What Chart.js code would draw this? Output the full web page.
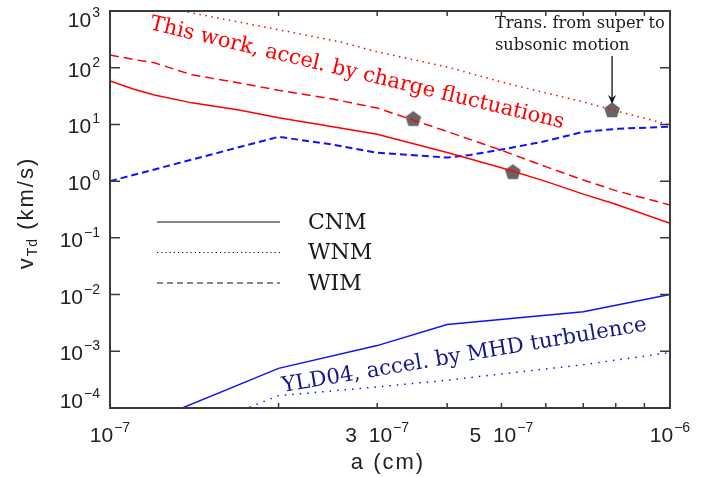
<!DOCTYPE html>
<html>
<head>
<meta charset="utf-8">
<script src="https://cdn.jsdelivr.net/npm/chart.js@4.4.0/dist/chart.umd.min.js"></script>
<style>
  html, body { margin: 0; padding: 0; background: #fff; }
</style>
</head>
<body>
<canvas id="vtd" width="723" height="477"></canvas>
<script>
// grain size a in units of 1e-7 cm, drift velocity v_Td in km/s

// this work, accel. by charge fluctuations (red)
const aRedCnm = [1.0, 1.1, 1.2, 1.4, 1.7, 2.0, 2.5, 3.0, 4.0, 5.0, 6.0, 7.0, 8.0, 10];
const vRedCnm = [58.6, 42, 33, 24, 18, 13.1, 9.1, 6.7, 3.2, 1.72, 0.99, 0.59, 0.39, 0.18];

const aRedWnm = [1.0, 1.345, 2.0, 2.58, 3.0, 4.0, 5.0, 6.0, 7.0, 7.9, 10];
const vRedWnm = [1300, 1000, 467, 285, 190, 103, 56, 36, 25, 18, 9.8];

const aRedWim = [1.0, 1.1, 1.2, 1.4, 1.7, 2.0, 2.5, 3.0, 4.0, 5.0, 6.0, 7.0, 8.0, 10];
const vRedWim = [168, 140, 122, 75, 54, 40, 28, 19.5, 7.5, 3.5, 1.8, 1.05, 0.68, 0.38];

// YLD04, accel. by MHD turbulence (blue)
const aBlueCnm = [1.0, 2.0, 3.0, 4.0, 7.0, 10];
const vBlueCnm = [3.0e-5, 5.0e-4, 1.26e-3, 2.96e-3, 5.0e-3, 1.0e-2];

const aBlueWnm = [1.0, 2.0, 3.0, 4.0, 7.0, 10];
const vBlueWnm = [1.1e-5, 1.65e-4, 2.35e-4, 3.1e-4, 5.8e-4, 9.5e-4];

const aBlueWim = [1.0, 2.0, 2.5, 3.0, 4.0, 4.4, 5.0, 5.9, 7.0, 8.1, 10];
const vBlueWim = [1.0, 6.05, 4.4, 3.16, 2.6, 2.9, 3.6, 4.9, 7.4, 8.4, 9.1];

// transition from super to subsonic motion
const aTrans = [3.48, 5.24, 7.88];
const vTrans = [12.6, 1.46, 18];

// axis ticks
const yTickExp = [3, 2, 1, 0, -1, -2, -3, -4];
const xTickAt = [1, 3, 5, 10];
const xTickPre = ["", "3  ", "5  ", ""];
const xTickExp = ["\u22127", "\u22127", "\u22127", "\u22126"];
const xMinorAt = [2, 3, 4, 5, 6, 7, 8, 9];

const legendNames = ["CNM", "WNM", "WIM"];

const RED = "#ff0000";
const BLUE = "#1010ff";
const AXIS = "#3a3a3a";

function pts(a, v) {
  return a.map((x, i) => ({ x: x * 1e-7, y: v[i] }));
}

function series(label, a, v, color, dash, width) {
  return {
    label: label,
    data: pts(a, v),
    borderColor: color,
    backgroundColor: color,
    borderWidth: width,
    borderDash: dash,
    pointRadius: 0,
    tension: 0,
    fill: false,
  };
}

// grey pentagon marker
let pentagon = document.createElement("canvas");
pentagon.width = 20;
pentagon.height = 20;
(function () {
  let c = pentagon.getContext("2d");
  c.fillStyle = "#666666";
  c.beginPath();
  for (let i = 0; i < 5; i++) {
    let ang = -Math.PI / 2 + (i * 2 * Math.PI) / 5;
    let px = 10 + 8.3 * Math.cos(ang);
    let py = 10.6 + 8.3 * Math.sin(ang);
    if (i == 0) c.moveTo(px, py);
    else c.lineTo(px, py);
  }
  c.closePath();
  c.fill();
})();

function supLabel(ctx, pre, exp, x, baseline, align) {
  ctx.font = "21px 'Liberation Sans'";
  let wBase = ctx.measureText(pre + "10").width;
  ctx.font = "14px 'Liberation Sans'";
  let wExp = ctx.measureText(exp).width;
  let w = wBase + wExp + 1;
  let left = align == "right" ? x - w : x - w / 2;
  ctx.textAlign = "left";
  ctx.textBaseline = "alphabetic";
  ctx.font = "21px 'Liberation Sans'";
  ctx.fillText(pre + "10", left, baseline);
  ctx.font = "14px 'Liberation Sans'";
  ctx.fillText(exp, left + wBase + 1, baseline - 10);
}

const decorations = {
  id: "decorations",
  afterDraw(chart) {
    const ctx = chart.ctx;
    const xs = chart.scales.x;
    const ys = chart.scales.y;
    const area = chart.chartArea;
    ctx.save();

    // frame
    ctx.strokeStyle = AXIS;
    ctx.lineWidth = 2;
    ctx.setLineDash([]);
    ctx.strokeRect(area.left, area.top, area.right - area.left, area.bottom - area.top);

    // y ticks, both sides
    ctx.lineWidth = 1.5;
    ctx.fillStyle = "#222";
    yTickExp.forEach((e) => {
      let py = ys.getPixelForValue(Math.pow(10, e));
      ctx.beginPath();
      ctx.moveTo(area.left, py);
      ctx.lineTo(area.left + 10, py);
      ctx.moveTo(area.right, py);
      ctx.lineTo(area.right - 10, py);
      ctx.stroke();
      let base = Math.min(Math.max(py + 9, area.top + 16), area.bottom);
      let exp = (e < 0 ? "\u2212" : "") + Math.abs(e);
      supLabel(ctx, "", exp, 100, base, "right");
    });

    // x minor ticks, top and bottom
    xMinorAt.forEach((m) => {
      let px = xs.getPixelForValue(m * 1e-7);
      ctx.beginPath();
      ctx.moveTo(px, area.bottom);
      ctx.lineTo(px, area.bottom - 5);
      ctx.moveTo(px, area.top);
      ctx.lineTo(px, area.top + 5);
      ctx.stroke();
    });

    xTickAt.forEach((t, i) => {
      let px = xs.getPixelForValue(t * 1e-7);
      supLabel(ctx, xTickPre[i], xTickExp[i], px, 442, "center");
    });

    // axis titles
    ctx.fillStyle = "#222";
    ctx.font = "22px 'Liberation Sans'";
    ctx.letterSpacing = "2px";
    ctx.textAlign = "center";
    ctx.textBaseline = "alphabetic";
    ctx.fillText("a (cm)", (area.left + area.right) / 2 - 2, 469);

    ctx.save();
    ctx.translate(33, 213);
    ctx.rotate(-Math.PI / 2);
    ctx.textAlign = "left";
    ctx.font = "22px 'Liberation Sans'";
    let wv = ctx.measureText("v").width;
    let wr = ctx.measureText(" (km/s)").width;
    ctx.font = "14px 'Liberation Sans'";
    ctx.letterSpacing = "1px";
    let ws = ctx.measureText("Td").width;
    let start = -(wv + ws + wr) / 2;
    ctx.letterSpacing = "2px";
    ctx.font = "22px 'Liberation Sans'";
    ctx.fillText("v", start, 0);
    ctx.fillText(" (km/s)", start + wv + ws, 0);
    ctx.letterSpacing = "1px";
    ctx.font = "14px 'Liberation Sans'";
    ctx.fillText("Td", start + wv, 4);
    ctx.restore();
    ctx.letterSpacing = "0px";

    // legend
    const legendDash = [[], [1.2, 3], [6, 4]];
    legendNames.forEach((name, i) => {
      let y = 222 + i * 30.5;
      ctx.strokeStyle = "#111";
      ctx.lineWidth = 1.1;
      ctx.setLineDash(legendDash[i]);
      ctx.beginPath();
      ctx.moveTo(157, y);
      ctx.lineTo(280, y);
      ctx.stroke();
      ctx.setLineDash([]);
      ctx.fillStyle = "#1a1a1a";
      ctx.font = "22px 'DejaVu Serif'";
      ctx.textAlign = "left";
      ctx.textBaseline = "middle";
      ctx.fillText(name, 308, y + 1);
    });

    // curve labels
    ctx.textBaseline = "alphabetic";
    ctx.save();
    ctx.translate(149, 29);
    ctx.rotate((13.5 * Math.PI) / 180);
    ctx.fillStyle = RED;
    ctx.font = "21px 'DejaVu Serif'";
    ctx.fillText("This work, accel. by charge fluctuations", 0, 0);
    ctx.restore();

    ctx.save();
    ctx.translate(283, 392);
    ctx.rotate((-9.6 * Math.PI) / 180);
    ctx.fillStyle = "#16168c";
    ctx.font = "21.3px 'DejaVu Serif'";
    ctx.fillText("YLD04, accel. by MHD turbulence", 0, 0);
    ctx.restore();

    // transition note with arrow to the WNM point, first line ~170px wide
    ctx.fillStyle = "#1a1a1a";
    ctx.font = "15px 'DejaVu Serif'";
    let noteSize = (15 * 170) / ctx.measureText("Trans. from super to").width;
    ctx.font = noteSize.toFixed(2) + "px 'DejaVu Serif'";
    ctx.fillText("Trans. from super to", 495, 28);
    ctx.fillText("subsonic motion", 495, 50);

    let ax = xs.getPixelForValue(aTrans[2] * 1e-7);
    let ay = ys.getPixelForValue(vTrans[2]);
    ctx.strokeStyle = "#111";
    ctx.lineWidth = 1.3;
    ctx.beginPath();
    ctx.moveTo(ax, 56);
    ctx.lineTo(ax, ay - 8);
    ctx.stroke();
    ctx.fillStyle = "#111";
    ctx.beginPath();
    ctx.moveTo(ax, ay - 6);
    ctx.lineTo(ax - 4, ay - 15);
    ctx.lineTo(ax, ay - 12);
    ctx.lineTo(ax + 4, ay - 15);
    ctx.closePath();
    ctx.fill();

    ctx.restore();
  },
};

const ctxVtd = document.getElementById("vtd").getContext("2d");

const chartVtd = new Chart(ctxVtd, {
  type: "line",
  data: {
    datasets: [
      series("CNM", aRedCnm, vRedCnm, RED, [], 1.5),
      series("WNM", aRedWnm, vRedWnm, RED, [1.5, 4.5], 1.5),
      series("WIM", aRedWim, vRedWim, RED, [9, 5], 1.5),
      series("YLD04 CNM", aBlueCnm, vBlueCnm, BLUE, [], 1.5),
      series("YLD04 WNM", aBlueWnm, vBlueWnm, BLUE, [1.5, 6], 1.5),
      series("YLD04 WIM", aBlueWim, vBlueWim, BLUE, [7, 4], 2),
      {
        label: "transition",
        data: pts(aTrans, vTrans),
        showLine: false,
        pointStyle: pentagon,
        pointRadius: 9,
        pointHoverRadius: 9,
      },
    ],
  },
  options: {
    responsive: false,
    animation: false,
    layout: { padding: { left: 110, top: 11, right: 53, bottom: 69 } },
    plugins: {
      legend: { display: false },
      tooltip: { enabled: false },
    },
    scales: {
      x: { type: "logarithmic", min: 1e-7, max: 1e-6, display: false },
      y: { type: "logarithmic", min: 1e-4, max: 1e3, display: false },
    },
  },
  plugins: [decorations],
});
</script>
</body>
</html>
